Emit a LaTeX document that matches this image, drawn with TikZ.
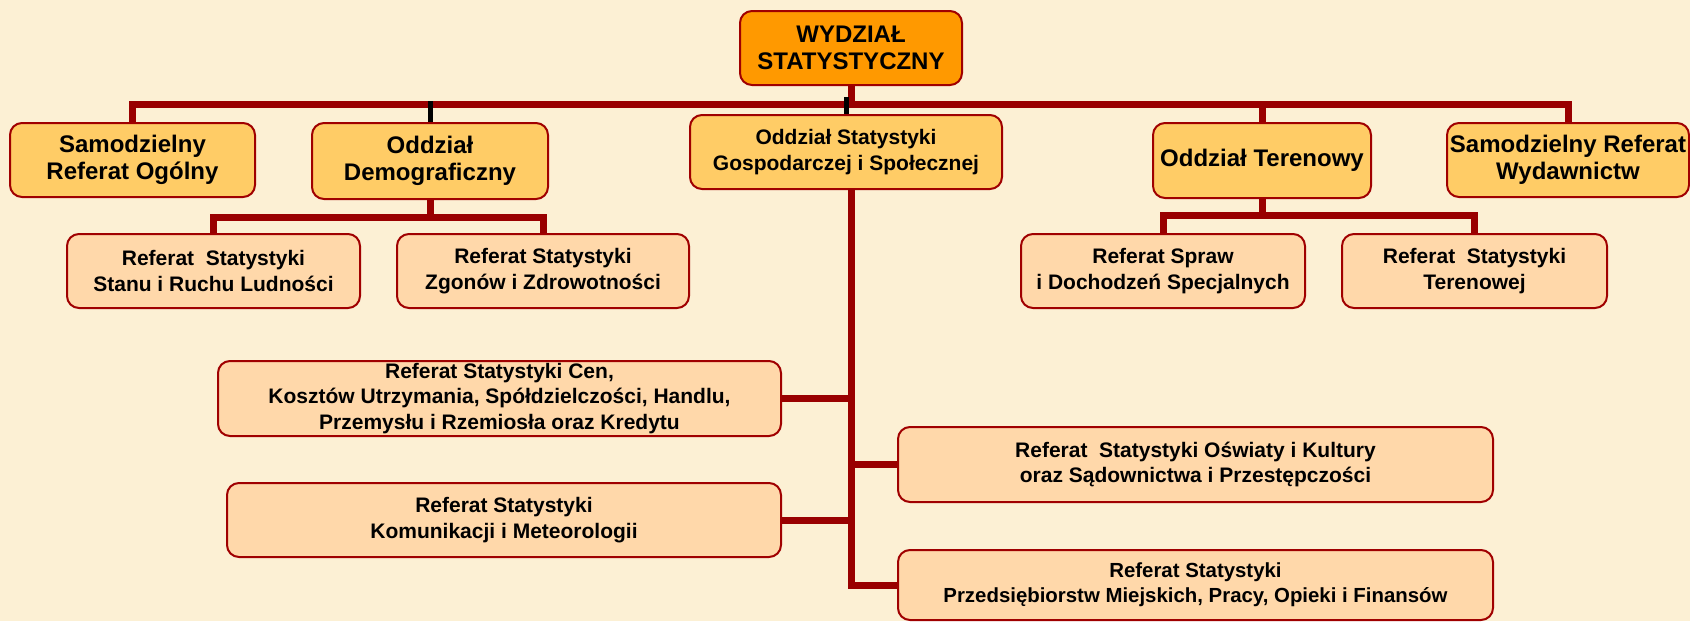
\documentclass[tikz,border=0pt]{standalone}
\usepackage{fontspec}
\setmainfont{Liberation Sans}

\definecolor{papier}{RGB}{252,240,212}
\definecolor{glowny}{RGB}{255,153,0}
\definecolor{oddzial}{RGB}{255,204,102}
\definecolor{referat}{RGB}{255,216,170}
\definecolor{ramka}{RGB}{160,0,0}
\definecolor{linia}{RGB}{153,0,0}

\begin{document}
\begin{tikzpicture}[x=0.5pt,y=-0.5pt,
  box/.style={draw=ramka,line width=1pt,rounded corners=6pt,inner sep=0pt,align=center},
  glownybox/.style={box,fill=glowny,font=\bfseries\fontsize{12}{13.5}\selectfont},
  oddzbox/.style={box,fill=oddzial,font=\bfseries\fontsize{12}{13.5}\selectfont},
  refbox/.style={box,fill=referat,font=\bfseries\fontsize{10.5}{13.3}\selectfont},
  refmaly/.style={box,fill=referat,font=\bfseries\fontsize{10.5}{12.7}\selectfont},
  link/.style={draw=linia,line width=3.5pt},
  czarny/.style={draw=black,line width=2.5pt}]
\fill[papier] (0,0) rectangle (1690,621);
\useasboundingbox (0,0) rectangle (1690,621);

\node[glownybox,minimum width=111pt,minimum height=37pt] (wydzial) at (851,48) {WYDZIAŁ\\STATYSTYCZNY};

\node[oddzbox,minimum width=122.5pt,minimum height=37pt] (ogolny) at (132.5,160) {Samodzielny\\Referat Ogólny};
\node[oddzbox,minimum width=118pt,minimum height=38pt] (demogr) at (430,161) {Oddział\\Demograficzny};
\node[refbox,fill=oddzial,minimum width=156pt,minimum height=37pt] (gosp) at (846,152) {Oddział Statystyki\\Gospodarczej i Społecznej};
\node[oddzbox,minimum width=109pt,minimum height=37.5pt] (teren) at (1262,160.5) {Oddział Terenowy};
\node[oddzbox,minimum width=121pt,minimum height=37pt] (wydawn) at (1568,160) {Samodzielny Referat\\Wydawnictw};

\node[refbox,minimum width=146.5pt,minimum height=37pt] (stanu) at (213.5,271) {Referat\ \ Statystyki\\Stanu i Ruchu Ludności};
\node[refbox,minimum width=146pt,minimum height=37pt] (zgonow) at (543,271) {Referat Statystyki\\Zgonów i Zdrowotności};
\node[refbox,minimum width=142pt,minimum height=37pt] (spraw) at (1163,271) {Referat Spraw\\i Dochodzeń Specjalnych};
\node[refbox,minimum width=132.5pt,minimum height=37pt] (terenowej) at (1474.5,271) {Referat\ \ Statystyki\\Terenowej};

\node[refmaly,minimum width=281.5pt,minimum height=37.5pt] (ceny) at (499.5,398.5) {Referat Statystyki Cen,\\Kosztów Utrzymania, Spółdzielczości, Handlu,\\Przemysłu i Rzemiosła oraz Kredytu};
\node[refmaly,minimum width=277pt,minimum height=37pt] (komun) at (504,520) {Referat Statystyki\\Komunikacji i Meteorologii};
\node[refmaly,minimum width=297.5pt,minimum height=37.5pt] (oswiaty) at (1195.5,464.5) {Referat\ \ Statystyki Oświaty i Kultury\\oraz Sądownictwa i Przestępczości};
\node[refmaly,font=\bfseries\fontsize{10.2}{12.7}\selectfont,minimum width=297.5pt,minimum height=35pt] (przeds) at (1195.5,585) {Referat Statystyki\\Przedsiębiorstw Miejskich, Pracy, Opieki i Finansów};

% szyna glowna
\coordinate (szyna) at (851,104);
\draw[link] (wydzial.south) -- (szyna);
\draw[link] (ogolny.north) |- (szyna) -| (wydawn.north);
\draw[link] (teren.north) -- (teren.north |- szyna);
\draw[czarny] (demogr.north) -- ([yshift=1.5pt]demogr.north |- szyna);
\draw[czarny] (gosp.north) -- ([yshift=3.5pt]gosp.north |- szyna);

% oddzial demograficzny
\coordinate (demoszyna) at (431,217);
\draw[link] (demogr.south) -- (demogr.south |- demoszyna);
\draw[link] (stanu.north) |- (demoszyna) -| (zgonow.north);

% oddzial terenowy
\coordinate (terenszyna) at (1262,215);
\draw[link] (teren.south) -- (terenszyna);
\draw[link] (spraw.north) |- (terenszyna) -| (terenowej.north);

% pion oddzialu gospodarczego
\coordinate (pion) at (851,189);
\draw[link] (pion) |- (przeds.west);
\draw[link] (ceny.east) -- (ceny.east -| pion);
\draw[link] (komun.east) -- (komun.east -| pion);
\draw[link] (oswiaty.west) -- (oswiaty.west -| pion);
\end{tikzpicture}
\end{document}
